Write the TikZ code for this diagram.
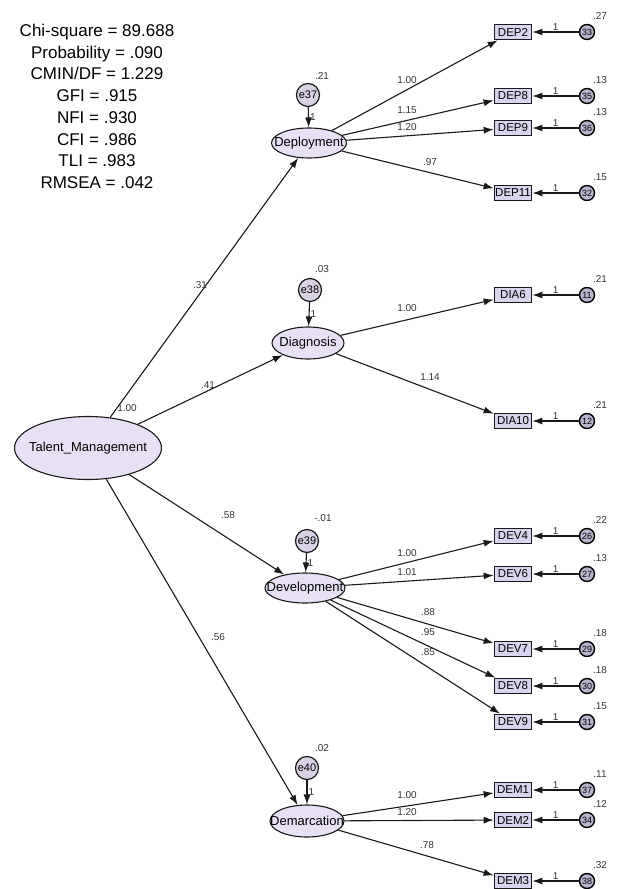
\documentclass[tikz,border=0pt]{standalone}
\usepackage{fontspec}
\setmainfont{Liberation Sans}
\usepackage{xcolor}
\usetikzlibrary{arrows.meta,shapes.geometric}
\definecolor{latfill}{RGB}{232,225,246}
\definecolor{obsfill}{RGB}{218,211,238}
\definecolor{errfill}{RGB}{185,180,205}
% observed variable with its error term: name, y, text, error, variance
\newcommand{\obsvar}[5]{%
  \node[obsbox] (#1) at (513,#2) {#3};
  \node[errc] (e#1) at (587,#2) {#4};
  \node[lbl] (v#1) at (600,{#2-16}) {#5};
  \draw[arr] (e#1) -- node[lbl,above=1pt] (one#1) {1} (#1);
}

\begin{document}
\begin{tikzpicture}[x=1pt, y=-1pt,
  every node/.style={font=\fontsize{10}{12}\selectfont},
  lbl/.style={inner sep=0pt, text=black!80},
  latent/.style={ellipse, draw=black!90, line width=1.1pt, fill=latfill, inner sep=0pt,
    font=\fontsize{13}{14}\selectfont},
  obsbox/.style={rectangle, draw=black!90, line width=1.7pt, fill=obsfill, minimum width=37pt,
    minimum height=15pt, inner sep=0pt, font=\fontsize{11.5}{12}\selectfont},
  errc/.style={circle, draw=black, line width=1.4pt, fill=errfill, minimum size=15pt, inner sep=0pt,
    font=\fontsize{9}{10}\selectfont},
  resid/.style={circle, draw=black!90, line width=1.2pt, fill=latfill!85!gray, minimum size=23pt, inner sep=0pt,
    font=\fontsize{11}{12}\selectfont},
  arr/.style={-{Latex[length=10pt,width=7pt]}, line width=1.1pt, draw=black!90}]
\useasboundingbox (0,0) rectangle (623,889);

% Fit indices
\node[anchor=north, align=center, inner sep=0pt, font=\fontsize{17}{21.7}\selectfont] (fit) at (97,24)
  {Chi-square = 89.688\\Probability = .090\\CMIN/DF = 1.229\\GFI = .915\\NFI = .930\\CFI = .986\\TLI = .983\\RMSEA = .042};

% Second order factor
\node[latent, minimum width=147pt, minimum height=63pt] (tm) at (88,448) {\makebox[0pt]{Talent\_Management}};
\node[lbl] (vtm) at (127,408) {1.00};

% First order factors
\node[latent, minimum width=75pt, minimum height=30pt] (dep) at (309,143) {\makebox[0pt]{Deployment}};
\node[latent, minimum width=72pt, minimum height=32pt] (dia) at (308,343) {\makebox[0pt]{Diagnosis}};
\node[latent, minimum width=80pt, minimum height=30pt] (dev) at (305,588) {\makebox[0pt]{Development}};
\node[latent, minimum width=74pt, minimum height=32pt] (dem) at (307,821) {\makebox[0pt]{Demarcation}};

\draw[arr] (tm) -- (dep);
\draw[arr] (tm) -- (dia);
\draw[arr] (tm) -- (dev);
\draw[arr] (tm) -- (dem);
\node[lbl] (l31) at (200,285) {.31};
\node[lbl] (l41) at (208,385) {.41};
\node[lbl] (l58) at (228,515) {.58};
\node[lbl] (l56) at (218,637) {.56};

% Residuals of first order factors
\node[resid] (e37) at (308,95) {e37};
\node[resid] (e38) at (310,290) {e38};
\node[resid] (e39) at (307,541) {e39};
\node[resid] (e40) at (307,768) {e40};
\node[lbl] (ve37) at (322,76) {.21};
\node[lbl] (ve38) at (322,269) {.03};
\node[lbl] (ve39) at (323,518) {-.01};
\node[lbl] (ve40) at (322,748) {.02};
\draw[arr] (e37) -- node[lbl,right=1pt] (o37) {1} (dep);
\draw[arr] (e38) -- node[lbl,right=1pt] (o38) {1} (dia);
\draw[arr] (e39) -- node[lbl,right=1pt] (o39) {1} (dev);
\draw[arr] (e40) -- node[lbl,right=1pt] (o40) {1} (dem);

% Deployment
\obsvar{dep2}{32}{DEP2}{33}{.27}
\obsvar{dep8}{96}{DEP8}{35}{.13}
\obsvar{dep9}{128}{DEP9}{36}{.13}
\obsvar{dep11}{193}{DEP11}{32}{.15}
\draw[arr] (dep) -- (dep2);
\draw[arr] (dep) -- (dep8);
\draw[arr] (dep) -- (dep9);
\draw[arr] (dep) -- (dep11);
\node[lbl] (ldep2) at (407,80) {1.00};
\node[lbl] (ldep8) at (407,110) {1.15};
\node[lbl] (ldep9) at (407,127) {1.20};
\node[lbl] (ldep11) at (430,162) {.97};

% Diagnosis
\obsvar{dia6}{295}{DIA6}{11}{.21}
\obsvar{dia10}{421}{DIA10}{12}{.21}
\draw[arr] (dia) -- (dia6);
\draw[arr] (dia) -- (dia10);
\node[lbl] (ldia6) at (407,308) {1.00};
\node[lbl] (ldia10) at (430,377) {1.14};

% Development
\obsvar{dev4}{536}{DEV4}{26}{.22}
\obsvar{dev6}{574}{DEV6}{27}{.13}
\obsvar{dev7}{649}{DEV7}{29}{.18}
\obsvar{dev8}{686}{DEV8}{30}{.18}
\obsvar{dev9}{722}{DEV9}{31}{.15}
\draw[arr] (dev) -- (dev4);
\draw[arr] (dev) -- (dev6);
\draw[arr] (dev) -- (dev7);
\draw[arr] (dev) -- (dev8);
\draw[arr] (dev) -- (dev9);
\node[lbl] (ldev4) at (407,553) {1.00};
\node[lbl] (ldev6) at (407,572) {1.01};
\node[lbl] (ldev7) at (428,612) {.88};
\node[lbl] (ldev8) at (428,632) {.95};
\node[lbl] (ldev9) at (428,652) {.85};

% Demarcation
\obsvar{dem1}{790}{DEM1}{37}{.11}
\obsvar{dem2}{820}{DEM2}{34}{.12}
\obsvar{dem3}{881}{DEM3}{38}{.32}
\draw[arr] (dem) -- (dem1);
\draw[arr] (dem) -- (dem2);
\draw[arr] (dem) -- (dem3);
\node[lbl] (ldem1) at (407,795) {1.00};
\node[lbl] (ldem2) at (407,812) {1.20};
\node[lbl] (ldem3) at (427,845) {.78};
\end{tikzpicture}
\end{document}
